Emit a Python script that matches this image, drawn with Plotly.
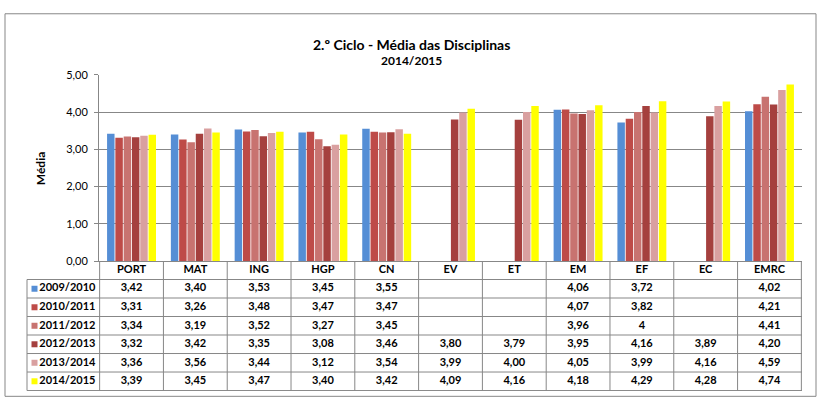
import plotly.graph_objects as go

categories = ["PORT", "MAT", "ING", "HGP", "CN", "EV", "ET", "EM", "EF", "EC", "EMRC"]
series_names = ["2009/2010", "2010/2011", "2011/2012", "2012/2013", "2013/2014", "2014/2015"]
v2009 = [3.42, 3.40, 3.53, 3.45, 3.55, None, None, 4.06, 3.72, None, 4.02]
v2010 = [3.31, 3.26, 3.48, 3.47, 3.47, None, None, 4.07, 3.82, None, 4.21]
v2011 = [3.34, 3.19, 3.52, 3.27, 3.45, None, None, 3.96, 4, None, 4.41]
v2012 = [3.32, 3.42, 3.35, 3.08, 3.46, 3.80, 3.79, 3.95, 4.16, 3.89, 4.20]
v2013 = [3.36, 3.56, 3.44, 3.12, 3.54, 3.99, 4.00, 4.05, 3.99, 4.16, 4.59]
v2014 = [3.39, 3.45, 3.47, 3.40, 3.42, 4.09, 4.16, 4.18, 4.29, 4.28, 4.74]
series_values = [v2009, v2010, v2011, v2012, v2013, v2014]
colors = ["#558ED5", "#BE4B48", "#C87370", "#A5403E", "#D9A0A0", "#FFFF00"]
yticks = [0, 1, 2, 3, 4, 5]

FONT = "Lato"
GRID = "#878787"
W, H = 825, 412

def fmt(v):
    if v is None:
        return ""
    if isinstance(v, int):
        return str(v)
    return f"{v:.2f}".replace(".", ",")

fig = go.Figure()

# bars
for name, vals, col in zip(series_names, series_values, colors):
    fig.add_trace(go.Bar(x=categories, y=vals, name=name, marker_color=col,
                         marker_line_width=0, showlegend=False, hoverinfo="skip"))

# table header row
fig.add_trace(go.Scatter(x=categories, y=[0.5] * len(categories), xaxis="x", yaxis="y2",
                         mode="text", text=[f"<b>{c}</b>" for c in categories],
                         textfont=dict(family=FONT, size=11, color="black"),
                         showlegend=False, hoverinfo="skip"))
# table values
for k, vals in enumerate(series_values):
    fig.add_trace(go.Scatter(x=categories, y=[k + 1.5] * len(categories), xaxis="x", yaxis="y2",
                             mode="text", text=[f"<b>{fmt(v)}</b>" for v in vals],
                             textfont=dict(family=FONT, size=11, color="black"),
                             showlegend=False, hoverinfo="skip"))
# legend column (keys)
for k, (name, col) in enumerate(zip(series_names, colors)):
    fig.add_trace(go.Scatter(x=[34.5], y=[k + 1.5], xaxis="x2", yaxis="y2",
                             mode="markers+text", text=[f"<b>{name}</b>"],
                             textposition="middle right",
                             marker=dict(symbol="square", size=6, color=col),
                             textfont=dict(family=FONT, size=11, color="black"),
                             cliponaxis=False, showlegend=False, hoverinfo="skip"))

shapes = []
# outer border
shapes.append(dict(type="rect", xref="paper", yref="paper", x0=5 / W, x1=816 / W,
                   y0=1 - 402 / H, y1=1 - 7 / H, line=dict(color=GRID, width=1)))
# table horizontal lines (spanning legend column + data)
for r in range(1, 8):
    shapes.append(dict(type="line", xref="paper", yref="y2", x0=27 / W, x1=802 / W,
                       y0=r, y1=r, line=dict(color=GRID, width=1)))
# legend column left border
shapes.append(dict(type="line", xref="paper", yref="y2", x0=27 / W, x1=27 / W,
                   y0=1, y1=7, line=dict(color=GRID, width=1)))
# table vertical lines between categories
for i in range(len(categories) + 1):
    shapes.append(dict(type="line", xref="x", yref="y2", x0=i - 0.5, x1=i - 0.5,
                       y0=0, y1=7, line=dict(color=GRID, width=1)))

annotations = [
    dict(text="<b>2.º Ciclo - Média das Disciplinas</b>", xref="paper", yref="paper",
         x=411 / W, y=1 - 28 / H, showarrow=False, font=dict(family=FONT, size=14, color="black")),
    dict(text="<b>2014/2015</b>", xref="paper", yref="paper",
         x=411 / W, y=1 - 45 / H, showarrow=False, font=dict(family=FONT, size=12, color="black")),
    dict(text="<b>Média</b>", xref="paper", yref="paper", x=31 / W, y=1 - 167 / H,
         textangle=-90, showarrow=False, font=dict(family=FONT, size=12, color="black")),
]

fig.update_layout(
    width=W, height=H,
    margin=dict(l=0, r=0, t=0, b=0),
    paper_bgcolor="white", plot_bgcolor="rgba(0,0,0,0)",
    separators=", ",
    barmode="group", bargap=0.22, bargroupgap=0.1,
    font=dict(family=FONT, size=11, color="black"),
    xaxis=dict(domain=[99 / W, 802 / W], range=[-0.51, 10.51], type="category",
               showticklabels=False, ticks="", showgrid=False, zeroline=False,
               showline=True, linecolor=GRID, linewidth=1, anchor="y"),
    yaxis=dict(domain=[1 - 262.3 / H, 1 - 70 / H], range=[0, 5], tickvals=yticks,
               tickformat=".2f", showgrid=True, gridcolor=GRID, gridwidth=1,
               zeroline=False, showline=True, linecolor=GRID, linewidth=1,
               ticks="outside", ticklen=4, tickcolor=GRID, ticklabelstandoff=4,
               tickfont=dict(family=FONT, size=11, color="black"), anchor="x"),
    yaxis2=dict(domain=[1 - 396.6 / H, 1 - 261.7 / H], range=[7.03, -0.03],
                visible=False, anchor="x"),
    xaxis2=dict(domain=[0, 1], range=[0, W], visible=False, anchor="y2"),
    shapes=shapes,
    annotations=annotations,
)

fig.write_html("out.html")
